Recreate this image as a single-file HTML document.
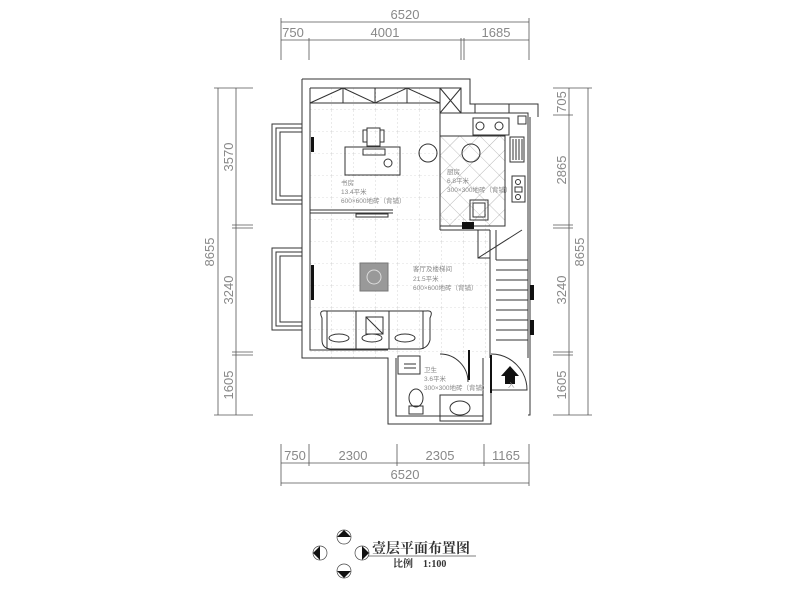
<!DOCTYPE html>
<html><head><meta charset="utf-8"><style>
html,body{margin:0;padding:0;background:#fff;}
svg{display:block}
text{font-family:"Liberation Sans",sans-serif;fill:#888}
.c{font-family:"Liberation Serif","Noto Serif CJK SC",serif;fill:#333}
</style></head><body>
<svg width="800" height="600" viewBox="0 0 800 600" xmlns="http://www.w3.org/2000/svg">
<defs>
<pattern id="g" width="22" height="22" patternUnits="userSpaceOnUse" x="310" y="88">
<path d="M22 0V22M0 22H22" stroke="#bbb" stroke-width="0.6" stroke-dasharray="2,2" fill="none"/>
</pattern>
<pattern id="d" width="14" height="14" patternUnits="userSpaceOnUse" x="440" y="136" patternTransform="rotate(45 440 136)">
<path d="M14 0V14M0 14H14" stroke="#888" stroke-width="0.6" fill="none"/>
</pattern>
</defs>
<g stroke="#555" stroke-width="0.8" fill="none">
<line x1="281" y1="22" x2="529" y2="22"/>
<line x1="281" y1="40" x2="529" y2="40"/>
<line x1="281" y1="18" x2="281" y2="60"/><line x1="529" y1="18" x2="529" y2="60"/>
<line x1="309" y1="38" x2="309" y2="60"/><line x1="461" y1="38" x2="461" y2="60"/><line x1="464" y1="38" x2="464" y2="60"/>
<line x1="281" y1="463" x2="529" y2="463"/>
<line x1="281" y1="483" x2="529" y2="483"/>
<line x1="281" y1="444" x2="281" y2="486"/><line x1="529" y1="444" x2="529" y2="486"/>
<line x1="309" y1="444" x2="309" y2="466"/><line x1="397" y1="444" x2="397" y2="466"/><line x1="484" y1="444" x2="484" y2="466"/>
<line x1="218" y1="88" x2="218" y2="415"/><line x1="236" y1="88" x2="236" y2="415"/>
<line x1="214" y1="88" x2="253" y2="88"/><line x1="214" y1="415" x2="253" y2="415"/>
<line x1="232" y1="225" x2="253" y2="225"/><line x1="232" y1="355" x2="253" y2="355"/>
<line x1="232" y1="228" x2="253" y2="228"/><line x1="232" y1="352" x2="253" y2="352"/>
<line x1="569" y1="88" x2="569" y2="415"/><line x1="588" y1="88" x2="588" y2="415"/>
<line x1="553" y1="88" x2="592" y2="88"/><line x1="553" y1="415" x2="592" y2="415"/>
<line x1="553" y1="115" x2="573" y2="115"/><line x1="553" y1="225" x2="573" y2="225"/><line x1="553" y1="355" x2="573" y2="355"/>
<line x1="553" y1="228" x2="573" y2="228"/><line x1="553" y1="352" x2="573" y2="352"/>
</g>
<g font-size="13">
<text x="405" y="19" text-anchor="middle">6520</text>
<text x="293" y="37" text-anchor="middle">750</text>
<text x="385" y="37" text-anchor="middle">4001</text>
<text x="496" y="37" text-anchor="middle">1685</text>
<text x="295" y="460" text-anchor="middle">750</text>
<text x="353" y="460" text-anchor="middle">2300</text>
<text x="440" y="460" text-anchor="middle">2305</text>
<text x="506" y="460" text-anchor="middle">1165</text>
<text x="405" y="479" text-anchor="middle">6520</text>
<text transform="translate(214,252) rotate(-90)" text-anchor="middle">8655</text>
<text transform="translate(233,157) rotate(-90)" text-anchor="middle">3570</text>
<text transform="translate(233,290) rotate(-90)" text-anchor="middle">3240</text>
<text transform="translate(233,385) rotate(-90)" text-anchor="middle">1605</text>
<text transform="translate(584,252) rotate(-90)" text-anchor="middle">8655</text>
<text transform="translate(566,102) rotate(-90)" text-anchor="middle">705</text>
<text transform="translate(566,170) rotate(-90)" text-anchor="middle">2865</text>
<text transform="translate(566,290) rotate(-90)" text-anchor="middle">3240</text>
<text transform="translate(566,385) rotate(-90)" text-anchor="middle">1605</text>
</g>
<rect x="310" y="88" width="130" height="120" fill="url(#g)"/>
<rect x="310" y="213" width="180" height="145" fill="url(#g)"/>
<rect x="440" y="136" width="65" height="90" fill="url(#d)"/>
<g stroke="#333" stroke-width="1" fill="none">
<path d="M302 79H470V104H538V117"/>
<path d="M310 88H461V113H528V358"/>
<path d="M302 79V358H388V424H491V390"/>
<path d="M310 88V350H388"/>
<path d="M396 358V416H483V358"/>
<path d="M530 117V415H528"/>
<rect x="475" y="104" width="34" height="9"/>
<path d="M440 113V230M440 230H490M490 230V358M310 210H393M310 213H393"/>
<path d="M310 103H440M343 88L310 103M343 88L375 103L407 88L440 103M343 88V103M375 88V103M407 88V103"/>
<rect x="440" y="88" width="21" height="25"/><path d="M440 88L461 113M461 88L440 113"/>
<rect x="272" y="124" width="30" height="80"/><rect x="276" y="128" width="26" height="72"/><rect x="280" y="132" width="22" height="64"/>
<rect x="272" y="248" width="30" height="82"/><rect x="276" y="252" width="26" height="74"/><rect x="280" y="256" width="22" height="66"/>
<rect x="345" y="147" width="55" height="28"/><rect x="363" y="149" width="22" height="6"/>
<rect x="367" y="128" width="13" height="18"/><rect x="363" y="130" width="4" height="12"/><rect x="380" y="130" width="4" height="12"/>
<circle cx="428" cy="153" r="9"/><circle cx="388" cy="163" r="4"/>
<rect x="356" y="214" width="32" height="3"/>
<rect x="473" y="118" width="36" height="17"/><circle cx="480" cy="126" r="4"/><circle cx="499" cy="126" r="4"/>
<rect x="440" y="136" width="65" height="90"/>
<circle cx="471" cy="153" r="9"/>
<rect x="470" y="200" width="18" height="20"/><rect x="473" y="203" width="12" height="14"/>
<rect x="510" y="137" width="14" height="25" /><path d="M513 139V160M516 139V160M519 139V160M522 139V160"/>
<rect x="512" y="176" width="13" height="26"/><circle cx="518" cy="182" r="2.5"/><circle cx="518" cy="197" r="2.5"/><rect x="515" y="187" width="7" height="5"/>
<rect x="518" y="116" width="8" height="8"/>
<path d="M478 230V258H490M496 230V260M478 258L522 230"/>
<path d="M496 260H528M496 270H528M496 280H528M496 290H528M496 300H528M496 310H528M496 320H528M496 330H528M496 340H528"/>
<rect x="360" y="263" width="28" height="28" fill="#999" stroke="#777"/>
<circle cx="374" cy="277" r="7" stroke="#ddd"/>
<path d="M322 318Q318 310 326 311H426Q434 310 430 318V340Q428 348 420 349H330Q322 348 322 340Z"/>
<path d="M327 311V349M356 311V349M389 311V349M423 311V349"/>
<rect x="366" y="317" width="17" height="17"/><path d="M366 317L383 334"/>
<ellipse cx="339" cy="338" rx="10" ry="4"/><ellipse cx="372" cy="338" rx="10" ry="4"/><ellipse cx="405" cy="338" rx="10" ry="4"/>
<rect x="398" y="356" width="22" height="18"/><path d="M404 364H416M404 368H416"/>
<ellipse cx="416" cy="398" rx="7" ry="9"/><rect x="409" y="406" width="14" height="8"/>
<rect x="440" y="395" width="43" height="26"/><ellipse cx="460" cy="408" rx="10" ry="7"/>
<path d="M440 354A28 28 0 0 1 468 382"/>
<path d="M491 354A36 36 0 0 1 527 390H491"/>
</g>
<g fill="#111">
<rect x="462" y="222" width="12" height="7"/>
<rect x="468" y="350" width="2" height="30"/><rect x="490" y="355" width="2" height="38"/>
<rect x="530" y="285" width="4" height="15"/><rect x="530" y="320" width="4" height="15"/>
<rect x="311" y="137" width="3" height="15"/><rect x="311" y="265" width="3" height="35"/>
<path d="M501 376L510 366L519 376H515V384H505V376Z"/>
</g>
<g class="c" font-size="6.5">
<text x="341" y="185">书房</text><text x="341" y="194">13.4平米</text><text x="341" y="203">600×600地砖（背铺）</text>
<text x="447" y="174">厨房</text><text x="447" y="183">6.8平米</text><text x="447" y="192">300×300地砖（背铺）</text>
<text x="413" y="271">客厅及楼梯间</text><text x="413" y="281">21.5平米</text><text x="413" y="290">600×600地砖（背铺）</text>
<text x="424" y="372">卫生</text><text x="424" y="381">3.6平米</text><text x="424" y="390">300×300地砖（背铺）</text>
<text x="508" y="387">入</text>
</g>
<text class="c" x="372" y="553" font-size="14" font-weight="bold" fill="#222">壹层平面布置图</text>
<line x1="368" y1="556" x2="476" y2="556" stroke="#555" stroke-width="0.8"/>
<text class="c" x="393" y="567" font-size="10" font-weight="bold" fill="#222">比例　1:100</text>
<g stroke="#444" stroke-width="0.7" fill="none">
<circle cx="344" cy="537" r="7"/><circle cx="320" cy="553" r="7"/><circle cx="362" cy="553" r="7"/><circle cx="344" cy="571" r="7"/>
</g>
<g fill="#111">
<path d="M337 537L344 530L351 537Z"/><path d="M313 553L320 546V560Z"/><path d="M369 553L362 546V560Z"/><path d="M337 571L344 578L351 571Z"/>
</g>
</svg>
</body></html>
